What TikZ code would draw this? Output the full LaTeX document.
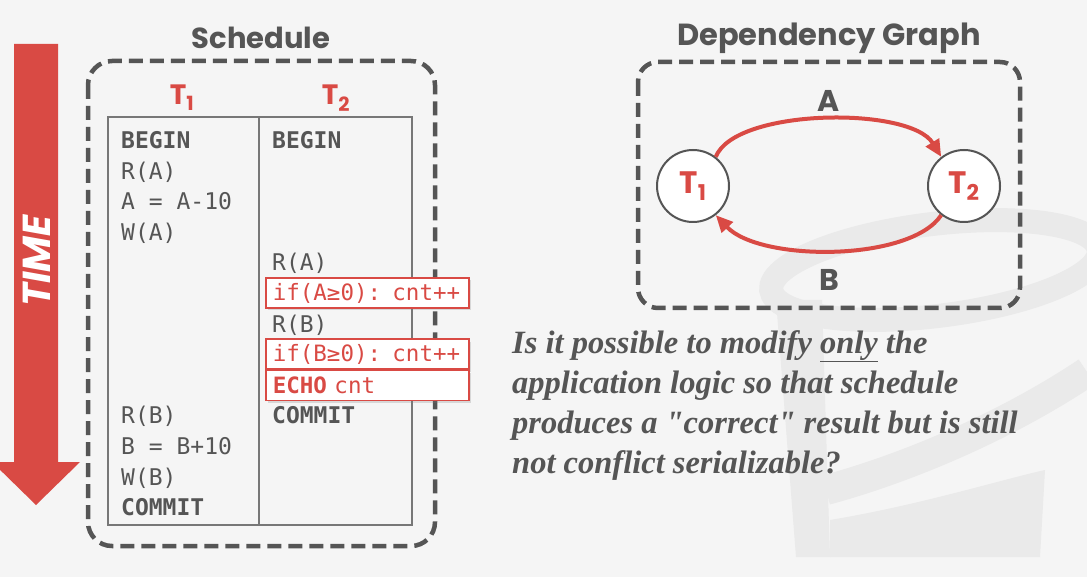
\documentclass[tikz,border=0pt]{standalone}
\usepackage{fontspec}
\setmainfont{Liberation Serif}
\setsansfont{Poppins}
\setmonofont{DejaVu Sans Mono}
\newfontfamily\questionfont{Liberation Serif}[Ligatures=TeXOff]
\usetikzlibrary{arrows.meta,shadows}

\definecolor{accent}{RGB}{217,74,68}
\definecolor{ink}{RGB}{85,85,85}
\definecolor{paper}{RGB}{245,245,245}
\definecolor{logogray}{RGB}{234,234,234}

\tikzset{
  title/.style={font=\sffamily\bfseries\fontsize{29}{32}\selectfont, text=ink, inner sep=0},
  dashframe/.style={draw=ink, line width=4.5, dash pattern=on 14 off 7, rounded corners=24},
  row/.style={font=\ttfamily\fontsize{23}{26}\selectfont, text=ink, anchor=base west, inner sep=0},
  hot/.style={font=\ttfamily\fontsize{22.5}{26}\selectfont, text=accent, anchor=west,
    draw=accent, line width=1.6, fill=white, minimum height=30, inner xsep=7, inner ysep=0,
    text width=189, drop shadow={opacity=0.25, shadow xshift=2pt, shadow yshift=-2.5pt}},
  txn/.style={font=\sffamily\bfseries\fontsize{28}{30}\selectfont, text=accent, inner sep=0},
  txnnode/.style={circle, draw=ink, line width=2, fill=white, minimum size=72, inner sep=0,
    font=\sffamily\bfseries\fontsize{31}{32}\selectfont, text=accent},
  edge/.style={draw=accent, line width=4, -{Triangle[length=17pt,width=15pt]}},
  edgelabel/.style={font=\sffamily\bfseries\fontsize{30}{32}\selectfont, text=ink, inner sep=0},
  question/.style={font=\questionfont\bfseries\itshape\fontsize{32.5}{40}\selectfont, text=ink,
    anchor=base west, inner sep=0},
}

\begin{document}
\begin{tikzpicture}[x=1pt,y=-1pt]
  % canvas
  \fill[paper] (0,0) rectangle (1087,577);
  \useasboundingbox (0,0) rectangle (1087,577);

  % faint logo in the background
  \begin{scope}[color=logogray]
    \draw[line width=24] (935,270) ellipse[x radius=165, y radius=46, rotate=7];
    \fill (776,300) -- (822,300) -- (830,557) -- (796,557) -- cycle;
    \draw[line width=30] (826,490) .. controls (900,470) and (1000,430) .. (1087,372);
    \fill (830,520) .. controls (920,505) and (1000,480) .. (1045,470) -- (1040,557) -- (830,557) -- cycle;
  \end{scope}

  % time arrow
  \fill[accent] (14,44) -- (58,44) -- (58,462) -- (80,462) -- (36,505) -- (-8,462) -- (14,462) -- cycle;
  \node[rotate=90, text=white, font=\sffamily\bfseries\itshape\fontsize{39}{40}\selectfont, inner sep=0]
    (time) at (37,261) {TIME};

  % schedule panel
  \node[title] (schedTitle) at (261,38) {Schedule};
  \draw[dashframe] (88,61) rectangle (435,546);
  \node[txn, anchor=base] (h1) at (182,105) {T\textsubscript{1}};
  \node[txn, anchor=base] (h2) at (336,105) {T\textsubscript{2}};
  \draw[ink!80, line width=1.4] (108,117) rectangle (412,525);
  \draw[ink!80, line width=1.4] (259,117) -- (259,525);

  % T1 operations
  \node[row] (a0)  at (121,148.5) {\textbf{BEGIN}};
  \node[row] (a1)  at (121,179.1) {R(A)};
  \node[row] (a2)  at (121,209.7) {A = A-10};
  \node[row] (a3)  at (121,240.3) {W(A)};
  \node[row] (a9)  at (121,423.9) {R(B)};
  \node[row] (a10) at (121,454.5) {B = B+10};
  \node[row] (a11) at (121,485.1) {W(B)};
  \node[row] (a12) at (121,515.7) {\textbf{COMMIT}};

  % T2 operations
  \node[row] (b0) at (272,148.5) {\textbf{BEGIN}};
  \node[row] (b4) at (272,270.9) {R(A)};
  \node[row] (b6) at (272,332.1) {R(B)};
  \node[row] (b9) at (272,423.9) {\textbf{COMMIT}};
  \node[hot] (b5) at (265,293) {if(A≥0): cnt++};
  \node[hot] (b7) at (265,354) {if(B≥0): cnt++};
  \node[hot] (b8) at (265,385.5) {\textbf{ECHO} cnt};

  % dependency graph panel
  \node[title, font=\sffamily\bfseries\fontsize{30.5}{32}\selectfont] (graphTitle) at (829,38) {Dependency Graph};
  \draw[dashframe, rounded corners=20] (638,62) rectangle (1020,308);
  \node[txnnode] (t1) at (693,186) {T\textsubscript{1}};
  \node[txnnode] (t2) at (964,186) {T\textsubscript{2}};
  \draw[edge] (t1.52) .. controls (735,108) and (910,106) .. (t2.128);
  \draw[edge] (t2.-128) .. controls (910,262) and (760,262) .. (t1.-52);
  \node[edgelabel] (la) at (829,101) {A};
  \node[edgelabel] (lb) at (829,280) {B};

  % question
  \node[question] (q1) at (512,353) {Is it possible to modify \underline{only} the};
  \node[question] (q2) at (512,393) {application logic so that schedule};
  \node[question] (q3) at (512,433) {produces a "correct" result but is still};
  \node[question] (q4) at (512,473) {not conflict serializable?};
\end{tikzpicture}
\end{document}
